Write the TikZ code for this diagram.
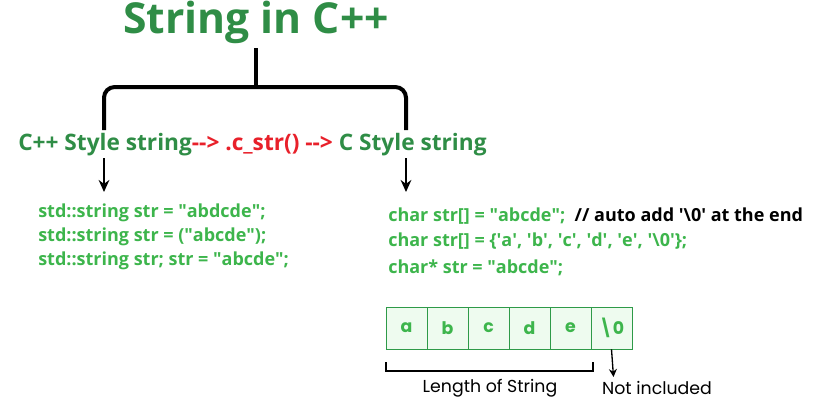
\documentclass[tikz,border=0pt]{standalone}
\usepackage{fontspec}
\usetikzlibrary{arrows.meta}
\setmainfont{Open Sans}
\newfontfamily\pop{Poppins}
\definecolor{dg}{HTML}{2F8D46}
\definecolor{lg}{HTML}{3DB54C}
\definecolor{rd}{HTML}{E8202A}
\definecolor{cellbg}{HTML}{EEFBEF}
\definecolor{cellbd}{HTML}{2E9A48}
\newcommand{\qq}{\textquotedbl}
\newcommand{\qs}{\textquotesingle}
\begin{document}
\begin{tikzpicture}[x=0.75pt,y=-0.75pt,
  head/.style={font=\bfseries\fontsize{17}{20}\selectfont,text=dg,inner sep=0pt},
  code/.style={font=\bfseries\fontsize{13.5}{16}\selectfont,text=lg,anchor=west,inner sep=0pt},
  cell/.style={draw=cellbd,fill=cellbg,minimum width=30.75pt,minimum height=31.5pt,inner sep=0pt,font=\pop\bfseries\fontsize{13}{15}\selectfont,text=lg},
  lbl/.style={font=\pop\fontsize{13}{15}\selectfont,inner sep=0pt},
  arr/.style={-{Stealth[length=9pt,width=8pt]},line width=2.2pt,black}]
\useasboundingbox (0,0) rectangle (818,412);
\node[font=\bfseries\fontsize{32}{36}\selectfont,text=dg,inner sep=0pt] (title) at (256,22) {String in C++};
\coordinate (top) at (256,48);
\coordinate (mid) at (256,87);
\coordinate (l) at (104,130);
\coordinate (r) at (406,130);
\draw[line width=3pt,rounded corners=8pt] (l) |- (mid) -| (r);
\draw[line width=3pt] (top) -- (mid);
\node[head,anchor=west] (cpp) at (18,145) {C++ Style string\textcolor{rd}{-{}-> .c\_str() -{}->} C Style string};
\coordinate (la) at (104,158);
\coordinate (lb) at (104,192);
\coordinate (ra) at (406,158);
\coordinate (rb) at (406,192);
\draw[arr] (la) -- (lb);
\draw[arr] (ra) -- (rb);
\node[code] (c1) at (38,213) {std::string str = \qq abdcde\qq;};
\node[code] (c2) at (38,237) {std::string str = (\qq abcde\qq);};
\node[code] (c3) at (38,261) {std::string str; str = \qq abcde\qq;};
\node[code] (d1) at (388,216) {char str[] = \qq abcde\qq;\ \ \textcolor{black}{// auto add \qs\textbackslash0\qs\ at the end}};
\node[code] (d2) at (388,241) {char str[] = \{\qs a\qs, \qs b\qs, \qs c\qs, \qs d\qs, \qs e\qs, \qs\textbackslash0\qs\};};
\node[code] (d3) at (388,268) {char* str = \qq abcde\qq;};
\foreach \t [count=\i] in {a,b,c,d,e,\textbackslash0}
  \node[cell] (k\i) at (386+20.5+41*\i-41,328) {\t};
\draw[line width=1pt] (386,362) |- (593,371) -- (593,362);
\node[lbl] (len) at (490,388) {Length of String};
\coordinate (nb) at (613.5,377);
\draw[-{Stealth[length=6pt,width=6pt]},line width=1pt] (k6.south) -- (nb);
\node[lbl] (ni) at (657,388) {Not included};
\end{tikzpicture}
\end{document}
